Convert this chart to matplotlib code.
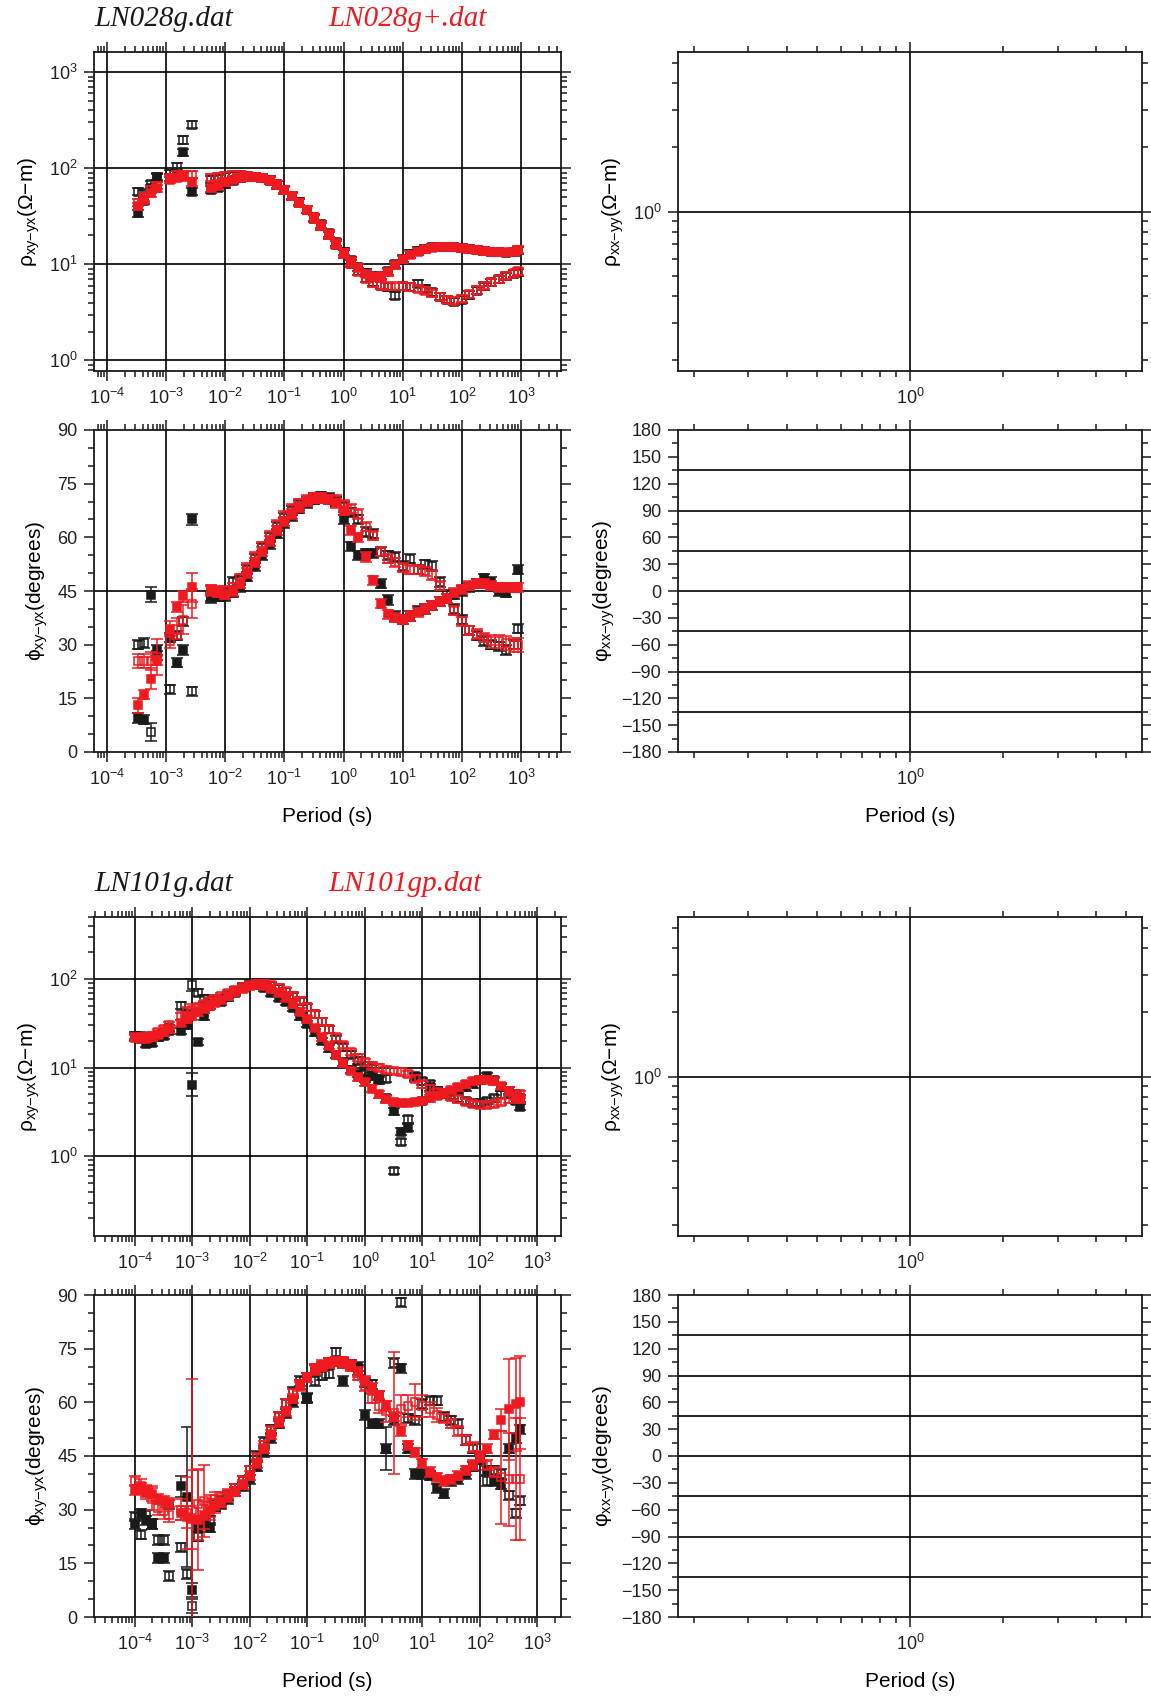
import numpy as np
import matplotlib
matplotlib.use("Agg")
import matplotlib.pyplot as plt
from matplotlib.ticker import (FixedLocator, LogLocator, NullFormatter,
                               LogFormatterSciNotation, MultipleLocator)

plt.rcParams['font.family'] = ['Liberation Sans', 'DejaVu Sans']
plt.rcParams['mathtext.fontset'] = 'custom'
plt.rcParams['mathtext.rm'] = 'Liberation Sans'
plt.rcParams['mathtext.it'] = 'Liberation Sans:italic'
plt.rcParams['mathtext.sf'] = 'Liberation Sans'
plt.rcParams['axes.unicode_minus'] = True

# ---------------------------------------------------------------- station 1
STATION_1 = "LN028g.dat"
STATION_1_ALT = "LN028g+.dat"

LOGT_1 = [-3.47, -3.375, -3.25, -3.16, -2.94, -2.81, -2.72, -2.56,
          -2.25, -2.125, -2.0, -1.875, -1.75, -1.625, -1.5, -1.375, -1.25, -1.125,
          -1.0, -0.875, -0.75, -0.625, -0.5, -0.375, -0.25, -0.125, 0.0, 0.125,
          0.25, 0.375, 0.5, 0.625, 0.75, 0.875, 1.0, 1.125, 1.25, 1.375,
          1.5, 1.625, 1.75, 1.875, 2.0, 2.125, 2.25, 2.375, 2.5, 2.625,
          2.75, 2.875, 2.95]

RHO_XY_1 = [34, 46, 62, 82, 80, 85, 147, 57,
            60, 63, 68, 74, 79, 82, 82, 80, 76, 68, 60, 52, 45, 37, 31, 26, 21, 17, 13.5, 11,
            9.3, 8.2, 7.5, 7.6, 8.5, 10, 11.5, 12.8, 13.8, 14.5, 15, 15.3, 15.3, 15.1,
            14.8, 14.5, 14.2, 13.8, 13.6, 13.3, 13.2, 13.4, 14]
RHO_YX_1 = [57, 55, 68, 80, 88, 104, 197, 283,
            76, 78, 82, 84, 85, 84, 82, 79, 74, 67, 59, 51, 44, 37, 30, 25, 20, 16, 12.8, 10.2,
            8.5, 7.2, 6.5, 6.0, 5.8, 4.7, 5.9, 5.8, 6.3, 5.6, 5.1, 4.6, 4.3, 4.1,
            4.3, 4.8, 5.3, 5.9, 6.5, 7.0, 7.5, 8.0, 8.3]
RHO_XY_1B = [40, 47, 55, 62, 76, 80, 82, 72,
             62, 66, 72, 76, 80, 82, 82, 80, 75, 68, 60, 52, 44, 37, 31, 25.5, 20.5, 16.5, 13.2, 10.8,
             9.2, 8.0, 7.4, 7.5, 8.3, 9.8, 11.3, 12.6, 13.6, 14.4, 14.9, 15.2, 15.2, 15.0,
             14.7, 14.4, 14.1, 13.8, 13.6, 13.4, 13.4, 13.6, 14.2]
RHO_YX_1B = [44, 50, 60, 66, 80, 85, 86, 86,
             80, 82, 84, 85, 85, 84, 82, 79, 74, 67, 59, 51, 44, 37, 30, 25, 20, 16, 12.8, 10.2,
             8.4, 7.1, 6.4, 6.0, 5.9, 5.9, 5.9, 5.8, 5.6, 5.3, 5.0, 4.6, 4.3, 4.2,
             4.4, 4.9, 5.4, 6.0, 6.5, 7.0, 7.6, 8.1, 8.5]

PHI_XY_1 = [9.5, 9, 44, 28.5, 32, 25, 28.5, 65,
            43.5, 43.5, 43.5, 44.5, 46, 49, 52, 55, 58, 61, 64, 66, 68, 69.5, 70.5, 71, 70.5, 70,
            65, 57.5, 55, 55.5, 55.5, 47, 42.5, 38, 37, 38, 39.5, 40, 41, 42, 43, 44, 45, 46,
            47, 48.5, 47.5, 45, 44.5, 46, 51]
PHI_YX_1 = [30, 30.5, 5.5, 27, 17.5, 32.5, 36.5, 17,
            43, 43.5, 44.5, 47.5, 48, 51, 54, 57, 60, 63, 65.5, 67.5, 69, 70, 71, 71.5, 71, 70,
            68.5, 67, 65, 61.5, 61, 56, 55, 54.5, 52, 54, 51, 52.5, 52, 47.5, 44, 40, 37, 34,
            32.5, 31, 30, 29.5, 28.5, 30, 34.5]
PHI_XY_1B = [13, 16, 20.5, 25.5, 34.5, 40.5, 43.5, 46,
             45, 44.5, 44, 45, 47, 50, 53, 56, 59, 62, 64.5, 66.5, 68.5, 70, 71, 71, 70.5, 69.5,
             67.5, 62, 60, 54.5, 48, 41.5, 38.5, 37.5, 37, 38, 39, 40, 41, 42, 43, 44.5, 45.5,
             46.5, 47, 47, 46.5, 46, 46, 46, 46]
PHI_YX_1B = [25.5, 25.5, 25.5, 26.5, 31, 34.5, 37, 41.5,
             45.5, 45, 45, 46, 48.5, 51.5, 54.5, 57.5, 60.5, 63.5, 66, 68, 69.5, 70.5, 71, 71,
             70.5, 70.5, 69, 68, 66.5, 63, 60.5, 56, 54, 53, 51.5, 51, 51, 50.5, 49.5, 46.5,
             43, 39.5, 36.5, 34, 33, 32, 31, 31, 30.5, 30, 30]

# phase error bars (degrees) where they differ from the typical value
PHI_ERR_TYPICAL = 1.3
PHI_ERR_XY_1 = {2: 2.0, 7: 1.6}
PHI_ERR_YX_1 = {2: 2.5}
PHI_ERR_XY_1B = {0: 2.0, 2: 3.0, 4: 2.0, 6: 1.5, 7: 4.0}
PHI_ERR_YX_1B = {0: 2.0, 1: 2.0, 2: 2.5, 3: 5.0, 4: 2.0, 5: 3.0, 6: 4.0, 7: 4.0,
                 46: 1.8, 47: 1.8, 48: 2.0, 49: 2.0, 50: 2.0}

# ---------------------------------------------------------------- station 2
STATION_2 = "LN101g.dat"
STATION_2_ALT = "LN101gp.dat"

LOGT_2 = [-4.0, -3.9, -3.8, -3.7, -3.6, -3.5, -3.4, -3.2, -3.1, -3.0, -2.9, -2.8, -2.7,
          -2.6, -2.5, -2.375, -2.25, -2.125, -2.0, -1.875, -1.75, -1.625, -1.5, -1.375,
          -1.25, -1.125, -1.0, -0.875, -0.75, -0.625, -0.5, -0.375, -0.25, -0.125, 0.0,
          0.125, 0.25, 0.375, 0.5, 0.625, 0.75, 0.875, 1.0, 1.125, 1.25, 1.375, 1.5,
          1.625, 1.75, 1.875, 2.0, 2.125, 2.25, 2.375, 2.5, 2.625, 2.7]

RHO_XY_2 = [22, 21, 18.5, 19, 22, 23, 26, 26, 30, 6.4, 19.5, 38, 50, 55, 55,
            62, 70, 80, 86, 86, 80, 70, 61, 55, 47,
            38, 31, 25, 20, 16.5, 14, 11.5, 9.5, 8.5, 7.5,
            8, 7.2, 4.5, 3.2, 1.9, 2.1, 8, 4.2, 6, 5.5,
            5.2, 5.3, 5.6, 6.0, 6.5, 7.2, 8, 7.2, 6, 5,
            4.2, 3.6]
RHO_YX_2 = [23, 22.5, 21, 22, 23, 25, 28, 50, 40, 86, 70, 60, 55, 58, 60,
            66, 74, 82, 88, 90, 88, 84, 78, 72, 64,
            56, 48, 40, 33, 27, 21, 17, 14, 12, 10.5,
            9.8, 7.5, 7.5, 0.68, 1.45, 2.6, 7.8, 7.0, 6.5, 5.5,
            5.0, 4.8, 4.5, 4.2, 4.0, 4.0, 4.2, 4.5, 5.0, 5.5,
            5.0, 4.5]
RHO_XY_2B = [21.5, 21, 21, 22, 23.5, 25, 27, 32, 35, 38, 42, 46, 50, 54, 58,
             64, 71, 78, 84, 86, 84, 78, 70, 61, 52,
             43, 35, 28, 22, 17.5, 14, 11.2, 9.2, 7.8, 6.8,
             5.8, 5.0, 4.4, 4.1, 4.0, 4.0, 4.1, 4.2, 4.5, 4.8,
             5.2, 5.6, 6.0, 6.5, 7.0, 7.3, 7.3, 7.0, 6.2, 5.5,
             4.8, 4.4]
RHO_YX_2B = [22, 22, 22, 23, 25, 27, 30, 38, 42, 45, 48, 52, 56, 60, 64,
             69, 75, 81, 86, 89, 89, 86, 80, 73, 65,
             57, 48, 40, 33, 27, 22, 18, 15, 13, 11.5,
             10.5, 10, 9.5, 9.2, 9.0, 8.5, 7.5, 6.5, 5.8, 5.3,
             5.0, 4.7, 4.4, 4.1, 3.9, 3.8, 3.8, 3.9, 4.1, 4.4,
             4.7, 5.0]

PHI_XY_2 = [26, 29, 27, 26, 16.5, 16.5, 31.5, 36.5, 33.5, 7.5, 25, 27, 25, 31, 31.5,
            33, 35, 36.5, 38.5, 42, 46, 50, 54, 57, 60,
            65, 61.3, 69, 70, 71, 71.5, 66, 70.5, 70, 56.5,
            54, 54, 47, 55, 69.5, 47, 40, 40, 39.5, 36,
            34.5, 38, 38.5, 40, 42, 44, 41, 38, 37, 47,
            50, 52.5]
PHI_YX_2 = [28, 23, 28.5, 26, 21.5, 21.5, 11.5, 19.5, 12, 3, 22.5, 26.5, 27, 31, 32.5,
            34, 36, 38, 41, 45, 49, 52.5, 56, 59.5, 63,
            66, 61, 66, 67.5, 68, 74, 71, 70.5, 69, 65.5,
            65, 62, 47, 71, 88, 55.5, 55, 59.5, 60.5, 60.5,
            56, 55, 54, 49.5, 47, 44.5, 38, 41, 40, 34,
            29, 32.5]
PHI_XY_2B = [35.5, 36, 35, 34.5, 33, 32.5, 32, 29, 28, 27.5, 27, 28.5, 30, 31, 32,
             33.5, 35, 37, 39.5, 43, 47, 51, 54.5, 57.5, 61,
             64.5, 67, 69.5, 70.5, 71, 71.5, 71.5, 70.5, 68.5, 66,
             64, 62, 59, 56, 52, 48, 46, 43, 40.5, 39,
             38, 38.5, 39.5, 41, 42.5, 44.5, 47, 51, 55, 58,
             59.5, 60]
PHI_YX_2B = [38, 36.5, 35, 33, 30.5, 29.5, 28.5, 30, 29, 30, 31.5, 32.5, 31, 33, 33.5,
             34.5, 36, 38, 41, 44.5, 48, 52, 56, 59.5, 62.5,
             65, 67, 69, 70, 71, 71.5, 71, 70, 67.5, 64.5,
             61, 59, 57.5, 57, 58, 59, 60, 59, 58, 56.5,
             55.5, 54, 52, 49.5, 47.5, 45, 42.5, 40.5, 39, 38.5,
             38.5, 38.5]

PHI_ERR_XY_2 = {7: 3.0, 8: 19.5, 9: 2.0}
PHI_ERR_YX_2 = {9: 2.0, 37: 6.0}
PHI_ERR_XY_2B = {0: 1.5, 1: 1.5, 2: 1.5, 3: 2.0, 7: 2.0, 8: 3.0, 9: 39.0, 10: 14.0,
                 11: 4.0, 12: 3.0, 13: 2.0, 53: 3.0, 54: 14.0, 55: 13.0, 56: 13.0}
PHI_ERR_YX_2B = {0: 1.5, 1: 2.0, 2: 2.0, 3: 3.0, 4: 2.0, 5: 2.0, 6: 2.0, 7: 3.0,
                 8: 10.0, 9: 11.0, 10: 10.0, 11: 10.0, 12: 3.0, 13: 2.0,
                 36: 2.0, 37: 3.0, 38: 17.0, 39: 4.0, 40: 3.0, 41: 5.0, 42: 3.0,
                 43: 2.0, 44: 2.0, 53: 13.0, 54: 13.0, 55: 17.0, 56: 17.0}

# relative apparent-resistivity errors where they differ from the typical value
RHO_ERR_TYPICAL = 0.09
RHO_ERR_XY_1 = {}
RHO_ERR_YX_1 = {}
RHO_ERR_XY_1B = {}
RHO_ERR_YX_1B = {}
RHO_ERR_XY_2 = {9: 0.35}
RHO_ERR_YX_2 = {9: 0.17}
RHO_ERR_XY_2B = {}
RHO_ERR_YX_2B = {8: 0.15, 9: 0.15}

RED = '#ee1a20'
INK = '#1a1a1a'

W, H = 1151, 1697
fig = plt.figure(figsize=(W / 100, H / 100), dpi=100)


def add_ax(x0, x1, y0, y1):
    return fig.add_axes([x0 / W, 1 - y1 / H, (x1 - x0) / W, (y1 - y0) / H])


def errs(n, typical, overrides):
    e = np.full(n, typical, dtype=float)
    for k, v in overrides.items():
        e[k] = v
    return e


def style_axes(ax):
    for sp in ax.spines.values():
        sp.set_linewidth(1.3)
        sp.set_color(INK)
    ax.tick_params(which='both', direction='out', top=True, right=True,
                   labeltop=False, labelright=False, colors=INK, width=1.1)
    ax.tick_params(which='major', length=7, labelsize=13, pad=5, labelcolor='#222')
    ax.tick_params(which='minor', length=4)
    ax.set_axisbelow(True)


def log_axis(axis, lo, hi, majors):
    axis.set_major_locator(FixedLocator([10.0 ** d for d in majors]))
    axis.set_major_formatter(LogFormatterSciNotation())
    axis.set_minor_locator(LogLocator(base=10, subs=np.arange(2, 10), numticks=200))
    axis.set_minor_formatter(NullFormatter())


MARKER = dict(fmt='s', ms=5.8, mew=1.1, elinewidth=1.1, capsize=4.4, capthick=1.1)


def plot_rho(ax, T, rho, rel, filled, color, z):
    rho = np.asarray(rho, float)
    lower = rho - rho / (1 + rel)
    upper = rho * rel
    ax.errorbar(T, rho, yerr=[lower, upper], mfc=color if filled else 'none',
                mec=color, ecolor=color, zorder=z, **MARKER)


def plot_phi(ax, T, phi, err, filled, color, z):
    ax.errorbar(T, phi, yerr=err, mfc=color if filled else 'none',
                mec=color, ecolor=color, zorder=z, **MARKER)


RHO_LABEL = 'ρ$_{\\mathregular{xy{-}yx}}$(Ω−m)'
PHI_LABEL = 'ϕ$_{\\mathregular{xy{-}yx}}$(degrees)'
RHO_LABEL_D = 'ρ$_{\\mathregular{xx{-}yy}}$(Ω−m)'
PHI_LABEL_D = 'φ$_{\\mathregular{xx{-}yy}}$(degrees)'
LABEL_SIZE = 15


def station(top, xlim, ylim_rho, rho_majors, names, logt,
            rho_sets, phi_sets, rho_err_sets, phi_err_sets):
    T = 10.0 ** np.asarray(logt)
    n = len(logt)
    y_rho = (top, top + 319)
    y_phi = (top + 378, top + 700)
    cols = [INK, INK, RED, RED]
    fills = [True, False, True, False]

    # --- off-diagonal apparent resistivity
    ax = add_ax(94, 561, *y_rho)
    ax.set_xscale('log'); ax.set_yscale('log')
    ax.set_xlim(10 ** xlim[0], 10 ** xlim[1])
    ax.set_ylim(10 ** ylim_rho[0], 10 ** ylim_rho[1])
    log_axis(ax.xaxis, *xlim, range(-4, 4))
    log_axis(ax.yaxis, *ylim_rho, rho_majors)
    ax.grid(True, which='major', color='k', lw=1.2)
    style_axes(ax)
    ax.set_ylabel(RHO_LABEL, fontsize=LABEL_SIZE, labelpad=5)
    for i, (vals, rel) in enumerate(zip(rho_sets, rho_err_sets)):
        plot_rho(ax, T, vals, errs(n, RHO_ERR_TYPICAL, rel), fills[i], cols[i], 3 + i)

    # --- off-diagonal phase
    ax = add_ax(94, 561, *y_phi)
    ax.set_xscale('log')
    ax.set_xlim(10 ** xlim[0], 10 ** xlim[1])
    ax.set_ylim(0, 90)
    log_axis(ax.xaxis, *xlim, range(-4, 4))
    ax.yaxis.set_major_locator(MultipleLocator(15))
    ax.yaxis.set_minor_locator(MultipleLocator(5))
    ax.grid(True, which='major', axis='x', color='k', lw=1.2)
    ax.axhline(45, color='k', lw=1.2, zorder=1)
    style_axes(ax)
    ax.set_ylabel(PHI_LABEL, fontsize=LABEL_SIZE, labelpad=5)
    ax.set_xlabel('Period (s)', fontsize=LABEL_SIZE, labelpad=13)
    for i, (vals, ov) in enumerate(zip(phi_sets, phi_err_sets)):
        plot_phi(ax, T, vals, errs(n, PHI_ERR_TYPICAL, ov), fills[i], cols[i], 3 + i)

    # --- diagonal resistivity (no data)
    ax = add_ax(678, 1142, *y_rho)
    ax.set_xscale('log'); ax.set_yscale('log')
    ax.set_xlim(10 ** -0.75, 10 ** 0.75)
    ax.set_ylim(10 ** -0.75, 10 ** 0.75)
    log_axis(ax.xaxis, -0.75, 0.75, [0])
    log_axis(ax.yaxis, -0.75, 0.75, [0])
    ax.grid(True, which='major', color='k', lw=1.2)
    style_axes(ax)
    ax.set_ylabel(RHO_LABEL_D, fontsize=LABEL_SIZE, labelpad=5)

    # --- diagonal phase (no data)
    ax = add_ax(678, 1142, *y_phi)
    ax.set_xscale('log')
    ax.set_xlim(10 ** -0.75, 10 ** 0.75)
    ax.set_ylim(-180, 180)
    log_axis(ax.xaxis, -0.75, 0.75, [0])
    ax.yaxis.set_major_locator(MultipleLocator(30))
    ax.yaxis.set_minor_locator(MultipleLocator(15))
    ax.grid(True, which='major', axis='x', color='k', lw=1.2)
    for g in (-135, -90, -45, 0, 45, 90, 135):
        ax.axhline(g, color='k', lw=1.2, zorder=1)
    style_axes(ax)
    ax.set_ylabel(PHI_LABEL_D, fontsize=LABEL_SIZE, labelpad=3)
    ax.set_xlabel('Period (s)', fontsize=LABEL_SIZE, labelpad=13)

    # --- file names
    fig.text(94 / W, 1 - (top - 33) / H, names[0], fontsize=21, style='italic',
             family='Liberation Serif', color=INK, ha='left', va='center')
    fig.text(328 / W, 1 - (top - 33) / H, names[1], fontsize=21, style='italic',
             family='Liberation Serif', color=RED, ha='left', va='center')


station(52, (-4.22, 3.676), (-0.11, 3.21), [0, 1, 2, 3], (STATION_1, STATION_1_ALT), LOGT_1,
        [RHO_XY_1, RHO_YX_1, RHO_XY_1B, RHO_YX_1B],
        [PHI_XY_1, PHI_YX_1, PHI_XY_1B, PHI_YX_1B],
        [RHO_ERR_XY_1, RHO_ERR_YX_1, RHO_ERR_XY_1B, RHO_ERR_YX_1B],
        [PHI_ERR_XY_1, PHI_ERR_YX_1, PHI_ERR_XY_1B, PHI_ERR_YX_1B])

station(917, (-4.71, 3.41), (-0.9, 2.7), [0, 1, 2], (STATION_2, STATION_2_ALT), LOGT_2,
        [RHO_XY_2, RHO_YX_2, RHO_XY_2B, RHO_YX_2B],
        [PHI_XY_2, PHI_YX_2, PHI_XY_2B, PHI_YX_2B],
        [RHO_ERR_XY_2, RHO_ERR_YX_2, RHO_ERR_XY_2B, RHO_ERR_YX_2B],
        [PHI_ERR_XY_2, PHI_ERR_YX_2, PHI_ERR_XY_2B, PHI_ERR_YX_2B])

fig.savefig('out.png', dpi=100, facecolor='white')
